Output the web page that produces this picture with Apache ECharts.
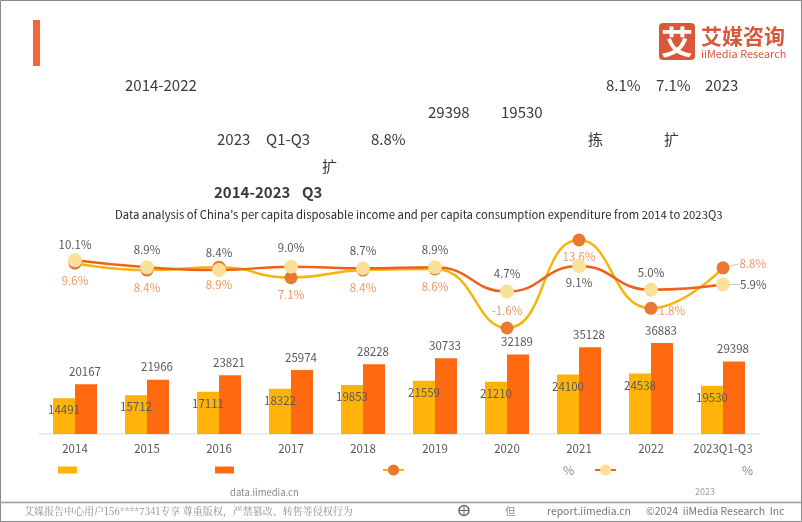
<!DOCTYPE html>
<html><head><meta charset="utf-8">
<style>html,body{margin:0;padding:0;background:#fff}#c{width:802px;height:522px}</style>
<script src="https://cdn.jsdelivr.net/npm/echarts@6/dist/echarts.min.js"></script>
</head><body><div id="c"></div>
<script>
const categories=['2014','2015','2016','2017','2018','2019','2020','2021','2022','2023Q1-Q3'];
const consumption=[14491,15712,17111,18322,19853,21559,21210,24100,24538,19530];
const income=[20167,21966,23821,25974,28228,30733,32189,35128,36883,29398];
const consumptionGrowth=[9.6,8.4,8.9,7.1,8.4,8.6,-1.6,13.6,1.8,8.8];
const incomeGrowth=[10.1,8.9,8.4,9.0,8.7,8.9,4.7,9.1,5.0,5.9];
const chartTitle="Data analysis of China's per capita disposable income and per capita consumption expenditure from 2014 to 2023Q3";
const FONT='"Noto Sans CJK SC","Noto Sans",sans-serif';
const DARK='#595959', SOFT='#EE9A66';
// label placement for line labels: [side, distance]
const incomePlace=[['top',3],['top',5],['top',5],['top',6],['top',5],['top',5],['top',5],['bottom',4],['top',4],['right',0]];
const consPlace=[['bottom',5],['bottom',5],['bottom',5],['bottom',5],['bottom',5],['bottom',5],['top',5],['bottom',4],['right',0],['right',0]];
const T=(x,y,s,o={})=>({type:'text',x,y,silent:true,style:Object.assign({text:s,font:`${o.bold?'bold ':''}${o.size||15}px ${FONT}`,fill:'#3a3a3a',textVerticalAlign:'middle'},o.style||{})});
const graphic=[
 {type:'rect',shape:{x:0.5,y:0.5,width:801,height:521},style:{fill:'none',stroke:'#8a8a8a',lineWidth:1},silent:true},
 {type:'line',shape:{x1:0,y1:502.5,x2:802,y2:502.5},style:{stroke:'#9a9a9a',lineWidth:1.5},silent:true},
 {type:'rect',shape:{x:33,y:20,width:7,height:46},style:{fill:'#F9633B'},silent:true},
 {type:'rect',shape:{x:659,y:23,width:36,height:37,r:4},style:{fill:'#D9583A'},silent:true},
 T(661,41.5,'艾',{size:32,bold:true,style:{fill:'#fff'}}),
 T(701,36,'艾媒咨询',{size:21,bold:true,style:{fill:'#D9583A'}}),
 T(701,54,'iiMedia Research',{size:10.9,style:{fill:'#D9583A'}}),
 T(125,85,'2014-2022'),T(606,85,'8.1%'),T(656,85,'7.1%'),T(705,85,'2023'),
 T(428,112,'29398'),T(501,112,'19530'),
 T(217,139,'2023'),T(266,139,'Q1-Q3'),T(371,139,'8.8%'),T(588,139,'拣'),T(664,139,'扩'),
 T(322,166,'扩'),
 T(214,192,'2014-2023',{bold:true}),T(302,192,'Q3',{bold:true}),
 T(115,215,chartTitle,{size:11.3,style:{fill:'#2b2b2b'}}),
 T(563,470,'%',{size:12,style:{fill:'#8a8a8a'}}),
 T(742,470,'%',{size:12,style:{fill:'#8a8a8a'}}),
 T(230,492,'data.iimedia.cn',{size:9.5,style:{fill:'#8a8a8a'}}),
 T(695,492,'2023',{size:9,style:{fill:'#a0a0a0'}}),
 {type:'text',x:24,y:511,silent:true,style:{text:'艾媒报告中心用户156****7341专享 尊重版权，严禁篡改、转售等侵权行为',font:'10px "Noto Serif CJK SC","Liberation Serif","Noto Sans CJK SC",serif',fill:'#8f8f8f',textVerticalAlign:'middle'}},
 {type:'circle',shape:{cx:464,cy:510.5,r:5},style:{fill:'none',stroke:'#666',lineWidth:1.5},silent:true},
 {type:'line',shape:{x1:459,y1:510.5,x2:469,y2:510.5},style:{stroke:'#666',lineWidth:1},silent:true},
 {type:'line',shape:{x1:464,y1:505.5,x2:464,y2:515.5},style:{stroke:'#666',lineWidth:1},silent:true},
 T(505,511,'但',{size:10.5,style:{fill:'#8f8f8f'}}),
 T(547,511,'report.iimedia.cn',{size:10.4,style:{fill:'#777'}}),
 T(646,511,'©2024  iiMedia Research  Inc',{size:10.5,style:{fill:'#777'}})
];
const lineData=(vals,place,color)=>vals.map((v,i)=>({value:v,
  label:{position:place[i][0],distance:place[i][1],color},
  labelLine:{show:i===vals.length-1,lineStyle:{color:'#c8c8c8',width:1}}}));
const leg=(name,left,w,h,top,icon)=>Object.assign({data:[name],left:left-5,top,itemWidth:w,itemHeight:h,itemGap:0,formatter:()=>'',textStyle:{fontSize:1},selectedMode:false},icon?{icon}:{});
const layoutFor=dy=>p=>p.dataIndex===categories.length-1?{dx:10,dy}:(p.dataIndex===8&&dy<0?{dx:1,dy:2}:{});
const chart=echarts.init(document.getElementById('c'),null,{renderer:'canvas'});
chart.setOption({
 animation:false,backgroundColor:'#fff',textStyle:{fontFamily:FONT},
 graphic:{elements:graphic},
 legend:[leg('人均消费支出',58,19,7,461.5,'rect'),leg('人均可支配收入',215,19,7,461.5,'rect'),leg('人均消费支出增速%',382,21,14,458),leg('人均可支配收入增速%',594,21,14,458)],
 grid:[{left:39,width:720,top:335.3,height:98.7},{left:39,width:720,top:237.7,height:92.6}],
 xAxis:[
  {type:'category',gridIndex:0,data:categories,axisTick:{show:false},axisLine:{lineStyle:{color:'#E6E6E6',width:1.5}},axisLabel:{color:DARK,fontSize:11.5,margin:9,interval:0}},
  {type:'category',gridIndex:1,data:categories,show:false}],
 yAxis:[
  {type:'value',gridIndex:0,min:0,max:40000,show:false,splitLine:{show:false}},
  {type:'value',gridIndex:1,min:-2,max:14,show:false,splitLine:{show:false}}],
 series:[
  {name:'人均消费支出',type:'bar',data:consumption,barWidth:22,barGap:'0%',itemStyle:{color:'#FFB30A'},
   label:{show:true,position:'insideTop',distance:6,color:DARK,fontSize:11.5,offset:[0,0]}},
  {name:'人均可支配收入',type:'bar',data:income,barWidth:22,itemStyle:{color:'#FF6A10'},
   label:{show:true,position:'top',distance:7,color:DARK,fontSize:11.5,offset:[-1,0]}},
  {name:'人均消费支出增速%',type:'line',xAxisIndex:1,yAxisIndex:1,smooth:true,symbol:'circle',symbolSize:13,z:3,
   data:lineData(consumptionGrowth,consPlace,SOFT),lineStyle:{color:'#F5B50E',width:2.5},itemStyle:{color:'#E8792F'},
   labelLayout:layoutFor(-4),
   label:{show:true,fontSize:11.5,formatter:p=>p.value.toFixed(1)+'%'}},
  {name:'人均可支配收入增速%',type:'line',xAxisIndex:1,yAxisIndex:1,smooth:true,symbol:'circle',symbolSize:14,z:4,
   data:lineData(incomeGrowth,incomePlace,DARK),lineStyle:{color:'#F0601A',width:2.5},itemStyle:{color:'#FBE09A'},
   labelLayout:layoutFor(0),
   label:{show:true,fontSize:11.5,formatter:p=>p.value.toFixed(1)+'%'}}
 ]
});
</script></body></html>
